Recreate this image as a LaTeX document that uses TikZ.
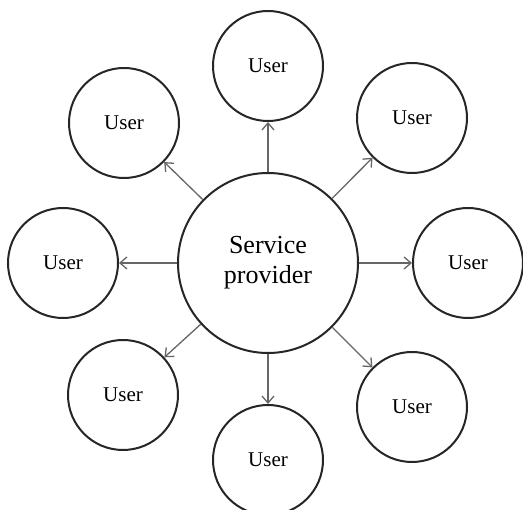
\documentclass[tikz,border=0pt]{standalone}
\usepackage{fontspec}
\setmainfont{Liberation Serif}
\usetikzlibrary{arrows.meta}
\begin{document}
\begin{tikzpicture}[x=1pt,y=-1pt,
  usercircle/.style={circle, draw=black!85, line width=2pt, minimum size=110pt, inner sep=0pt,
    font=\fontsize{21}{25}\selectfont},
  hubcircle/.style={circle, draw=black!85, line width=2pt, minimum size=180pt, inner sep=0pt,
    align=center, font=\fontsize{26}{30}\selectfont},
  link/.style={draw=black!60, line width=1.3pt, -{Straight Barb[length=7pt,width=12pt,line width=1.3pt]}}]
  \useasboundingbox (0,0) rectangle (523,510);
  \fill[white] (0,0) rectangle (523,510);
  \node[hubcircle] (sp) at (268,263) {Service\\provider};
  \node[usercircle] (u1) at (268,66) {User};
  \node[usercircle] (u2) at (412,118) {User};
  \node[usercircle] (u3) at (468,263) {User};
  \node[usercircle] (u4) at (412,407) {User};
  \node[usercircle] (u5) at (268,460) {User};
  \node[usercircle] (u6) at (123,395) {User};
  \node[usercircle] (u7) at (63,263) {User};
  \node[usercircle] (u8) at (124,123) {User};
  \foreach \u in {u1,u2,u3,u4,u5,u6,u7,u8}
    \draw[link] (sp) -- (\u);
\end{tikzpicture}
\end{document}
